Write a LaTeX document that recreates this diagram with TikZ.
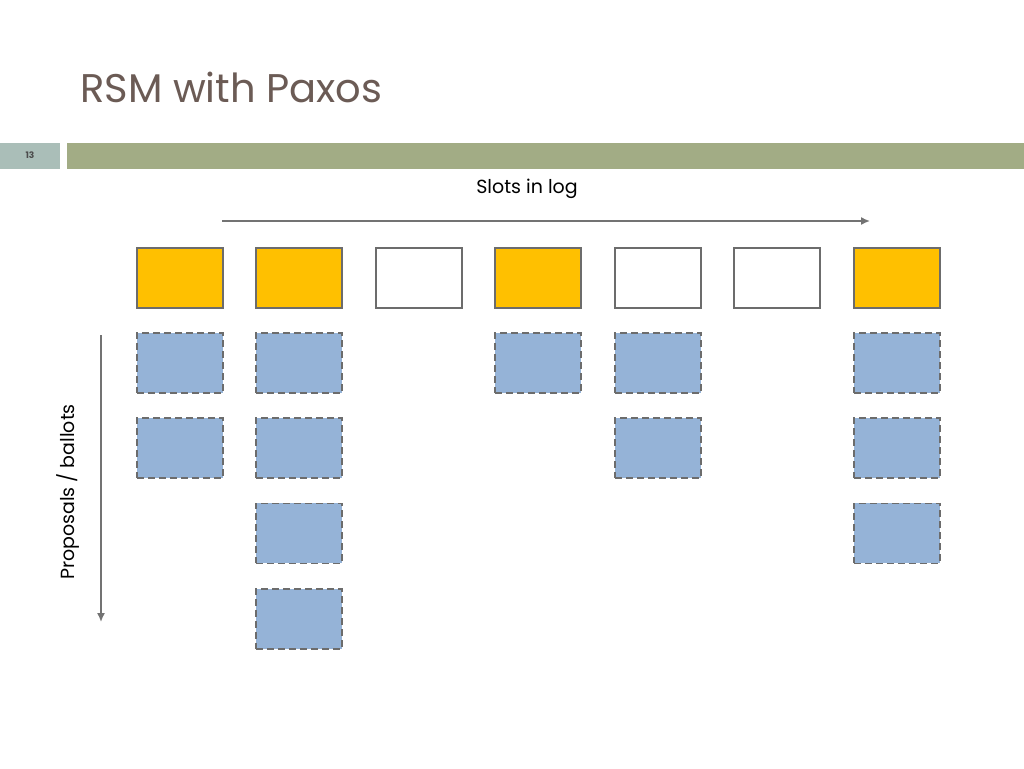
\documentclass[tikz,border=0pt]{standalone}
\usepackage{fontspec}
\setmainfont{Poppins}
\usetikzlibrary{arrows.meta}
\definecolor{yel}{HTML}{FFC000}
\definecolor{blue1}{HTML}{95B3D7}
\definecolor{titlec}{HTML}{6B5B55}
\definecolor{numbox}{HTML}{AABEB8}
\definecolor{bar}{HTML}{A2AC85}
\begin{document}
\begin{tikzpicture}[x=1pt,y=-1pt,
  slot/.style={draw=gray!85!black,line width=1.6pt,fill=#1,minimum width=86pt,minimum height=60pt,anchor=north west,inner sep=0},
  prop/.style={draw=gray!85!black,line width=1.6pt,dash pattern=on 7pt off 4pt,fill=blue1,minimum width=86pt,minimum height=60pt,anchor=north west,inner sep=0},
  arr/.style={draw=gray!90!black,line width=1.6pt,-{Latex[length=9pt,width=8pt]}}]
\useasboundingbox (0,0) rectangle (1024,768);
\fill[white] (0,0) rectangle (1024,768);
\node[anchor=base west,text=titlec,font=\fontsize{40}{44}\selectfont,inner sep=0] (title) at (80,102) {RSM with Paxos};
\fill[numbox] (0,143) rectangle (60,169);
\node[font=\fontsize{9}{10}\selectfont\bfseries,text=gray!60!black] (num) at (30,155) {13};
\fill[bar] (67,143) rectangle (1024,169);
\node[font=\fontsize{19}{22}\selectfont] (slots) at (527,189) {Slots in log};
\coordinate (ha) at (222,221); \coordinate (hb) at (870,221);
\draw[arr] (ha) -- (hb);
\coordinate (va) at (101,335); \coordinate (vb) at (101,622);
\draw[arr] (va) -- (vb);
\node[rotate=90,font=\fontsize{19}{22}\selectfont] (prop) at (68,492) {Proposals / ballots};
\foreach \x/\c [count=\i] in {136/yel,255/yel,375/white,494/yel,614/white,733/white,853/yel}
  \node[slot=\c] (s\i) at (\x,247) {};
\foreach \x/\r in {136/1,136/2,255/1,255/2,255/3,255/4,494/1,614/1,614/2,853/1,853/2,853/3}
  \node[prop] (p\x-\r) at (\x,{332+85.3*(\r-1)}) {};
\end{tikzpicture}
\end{document}
